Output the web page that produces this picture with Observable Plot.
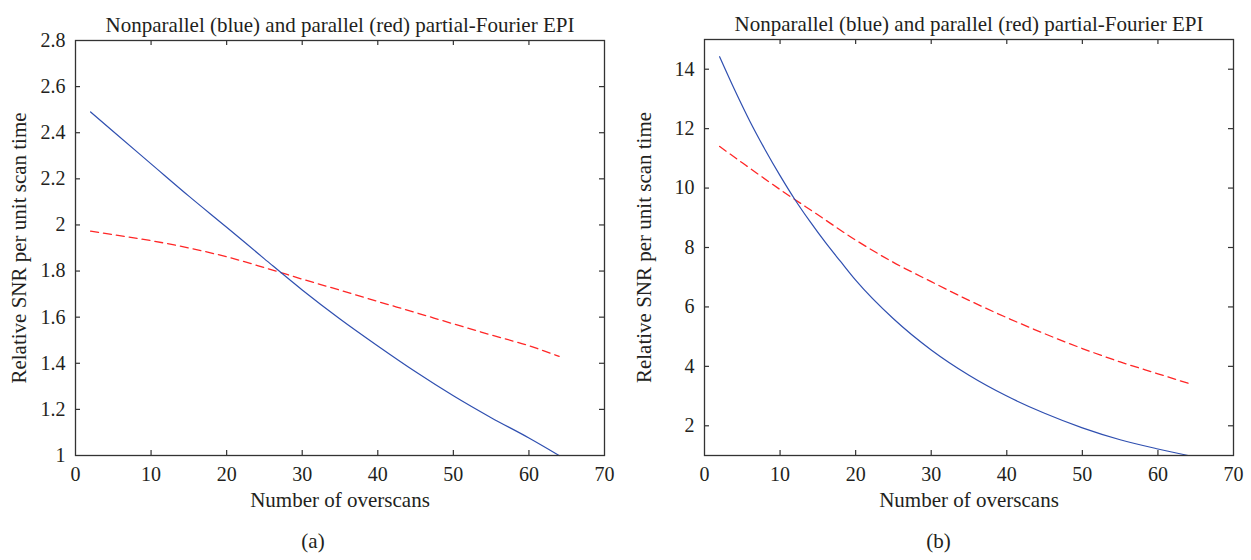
<!DOCTYPE html>
<html>
<head>
<meta charset="utf-8">
<script src="https://cdn.jsdelivr.net/npm/d3@7"></script>
<script src="https://cdn.jsdelivr.net/npm/@observablehq/plot@0.6"></script>
<style>
  html, body { margin: 0; padding: 0; background: #fff; }
  #wrap { display: flex; width: 1251px; height: 560px; }
  #wrap svg { display: block; }
  #wrap svg, #wrap svg text { font-family: "Liberation Serif", "DejaVu Serif", serif !important; }
</style>
</head>
<body>
<div id="wrap"></div>
<script>
// ---- data ----
const titleText = "Nonparallel (blue) and parallel (red) partial-Fourier EPI";
const xLabel = "Number of overscans";
const yLabel = "Relative SNR per unit scan time";
const captions = ["(a)", "(b)"];

const overscans = [2, 5, 10, 15, 20, 25, 30, 35, 40, 45, 50, 55, 60, 64];
const aBlue = [2.49, 2.405, 2.265, 2.125, 1.99, 1.853, 1.718, 1.592, 1.475, 1.363, 1.259, 1.164, 1.076, 1.0];
const aRed  = [1.973, 1.958, 1.932, 1.9, 1.862, 1.815, 1.765, 1.717, 1.668, 1.62, 1.571, 1.523, 1.476, 1.43];

const bBlueX = [2, 4, 6, 8, 10, 12, 14, 16, 18, 20, 25, 30, 35, 40, 45, 50, 55, 60, 64];
const bBlue  = [14.42, 13.3, 12.25, 11.3, 10.42, 9.6, 8.86, 8.17, 7.53, 6.9, 5.6, 4.55, 3.7, 3.0, 2.42, 1.93, 1.53, 1.22, 1.0];
const bRedX  = [2, 5, 10, 15, 20, 25, 30, 35, 40, 45, 50, 55, 60, 64];
const bRed   = [11.4, 10.85, 9.95, 9.1, 8.25, 7.5, 6.85, 6.22, 5.64, 5.1, 4.6, 4.15, 3.75, 3.43];

const xTicks = [0, 10, 20, 30, 40, 50, 60, 70];
const aYTicks = [1, 1.2, 1.4, 1.6, 1.8, 2, 2.2, 2.4, 2.6, 2.8];
const bYTicks = [2, 4, 6, 8, 10, 12, 14];

// ---- styles ----
const FONT = "Liberation Serif";
const TEXT = "#231f20";
const FRAME = "#333";
const BLUE = "#2f4fb0";
const RED = "#ff2626";

function panel({width, ml, mr, mt, mb, blueX, blue, redX, red, yDomain, yTicks, caption}) {
  const height = 560;
  const fh = height - mt - mb;
  const fw = width - ml - mr;
  const TL = 5;
  const blueData = blueX.map((x, i) => ({x, y: blue[i]}));
  const redData = redX.map((x, i) => ({x, y: red[i]}));
  const fmt = d => String(d);
  const innerY = yTicks.filter(d => d > yDomain[0] && d < yDomain[1]);
  return Plot.plot({
    width, height,
    marginLeft: ml, marginRight: mr, marginTop: mt, marginBottom: mb,
    style: {fontFamily: FONT, fontSize: "20px", color: TEXT, background: "#fff"},
    x: {domain: [0, 70]},
    y: {domain: yDomain},
    marks: [
      Plot.axisX(xTicks, {tickSize: 0, tickPadding: 11, tickFormat: fmt, fontSize: 20, label: null, fill: TEXT}),
      Plot.axisY(yTicks, {tickSize: 0, tickPadding: 10, tickFormat: fmt, fontSize: 20, label: null, fill: TEXT}),
      // inward ticks on all four sides
      Plot.tickX(xTicks.slice(1, -1), {x: d => d, insetTop: fh - TL, stroke: FRAME, strokeWidth: 1.2}),
      Plot.tickX(xTicks.slice(1, -1), {x: d => d, insetBottom: fh - TL, stroke: FRAME, strokeWidth: 1.2}),
      Plot.tickY(innerY, {y: d => d, insetRight: fw - TL, stroke: FRAME, strokeWidth: 1.2}),
      Plot.tickY(innerY, {y: d => d, insetLeft: fw - TL, stroke: FRAME, strokeWidth: 1.2}),
      Plot.line(redData, {x: "x", y: "y", stroke: RED, strokeWidth: 1.3, strokeDasharray: "8,5", curve: "monotone-x"}),
      Plot.line(blueData, {x: "x", y: "y", stroke: BLUE, strokeWidth: 1.2, curve: "monotone-x"}),
      Plot.frame({stroke: FRAME, strokeWidth: 1.3}),
      Plot.text([titleText], {frameAnchor: "top", dy: -23, fontSize: 21, fill: TEXT}),
      Plot.text([xLabel], {frameAnchor: "bottom", dy: 51, fontSize: 21, fill: TEXT}),
      Plot.text([yLabel], {frameAnchor: "left", textAnchor: "middle", dx: -(ml - 19), rotate: -90, fontSize: 21, fill: TEXT}),
      Plot.text([caption], {frameAnchor: "bottom", dy: 92, dx: width / 2 - (ml + fw / 2), fontSize: 21, fill: TEXT})
    ]
  });
}

const wrap = document.getElementById("wrap");
wrap.appendChild(panel({width: 625, ml: 75, mr: 21, mt: 40, mb: 105, blueX: overscans, blue: aBlue, redX: overscans, red: aRed, yDomain: [1, 2.8], yTicks: aYTicks, caption: captions[0]}));
wrap.appendChild(panel({width: 626, ml: 79, mr: 18, mt: 39, mb: 105, blueX: bBlueX, blue: bBlue, redX: bRedX, red: bRed, yDomain: [1, 15], yTicks: bYTicks, caption: captions[1]}));
</script>
</body>
</html>
